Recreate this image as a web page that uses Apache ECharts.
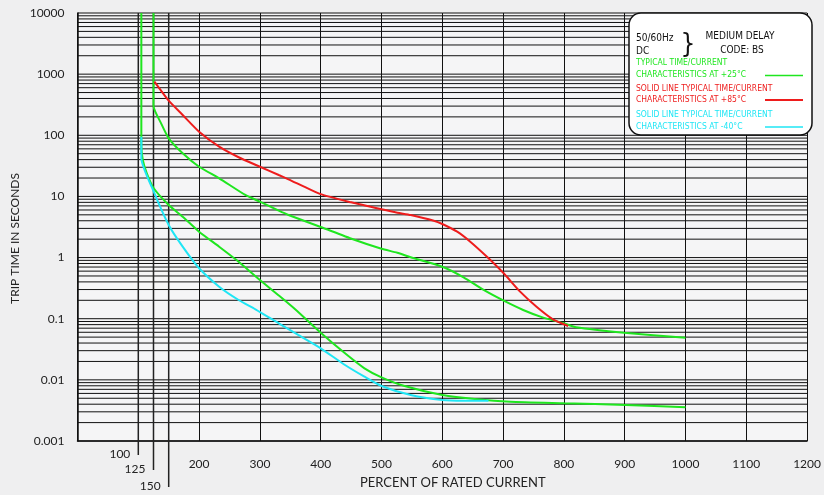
<!DOCTYPE html>
<html>
<head>
<meta charset="utf-8">
<script src="https://cdn.jsdelivr.net/npm/echarts@6/dist/echarts.min.js"></script>
<style>html,body{margin:0;padding:0;background:#efeff0;}#c{width:824px;height:495px;}</style>
</head>
<body>
<div id="c"></div>
<script>
// ---- data ----
const yTickLabels = ['0.001', '0.01', '0.1', '1', '10', '100', '1000', '10000'];
const xTickLabels = ['200', '300', '400', '500', '600', '700', '800', '900', '1000', '1100', '1200'];
const specialTicks = [100, 125, 150];
const specialTickLabels = ['100', '125', '150'];

// +25°C typical (upper green curve)
const green25Upper = [[125, 10000], [125, 301], [137.5, 157], [150, 89.3], [173, 50.8], [200, 30.6], [233, 19.8],
  [276, 10.56], [300, 8.2], [331, 5.84], [347, 4.97], [400, 3.16], [453, 1.99], [500, 1.39], [526, 1.2],
  [548, 1.01], [600, 0.709], [635, 0.476], [668, 0.295], [701, 0.197], [733, 0.139], [766, 0.104],
  [800, 0.0841], [820, 0.0724], [899, 0.059], [1000, 0.049]];
// +25°C typical (lower green curve)
const green25Lower = [[105, 10000], [105, 70], [107.4, 39.4], [114, 23.9], [125.4, 13.59], [150, 7.24],
  [173, 4.66], [200, 2.65], [233, 1.506], [265, 0.856], [300, 0.43], [331, 0.24], [358, 0.1426], [400, 0.059],
  [440, 0.0272], [472, 0.01545], [500, 0.01101], [538, 0.00793], [600, 0.00565], [657, 0.00481],
  [712, 0.00439], [800, 0.00414], [902, 0.00388], [1000, 0.00356]];
// +85°C (red)
const red85 = [[126.5, 752], [150, 368], [173, 215], [200, 114.5], [233, 65.1], [265, 43.7], [300, 30.6],
  [331, 22.4], [347, 19.06], [400, 10.9], [450, 8.02], [500, 6.16], [526, 5.42], [548, 4.97], [586, 4.01],
  [600, 3.54], [624.5, 2.65], [646, 1.82], [673.5, 1.03], [701, 0.553], [728, 0.277], [755, 0.157],
  [782, 0.0978], [807, 0.076]];
// -40°C (cyan)
const cyan40 = [[105, 94.8], [105, 42.1], [125.4, 11.95], [150, 3.41], [173, 1.506], [200, 0.668], [233, 0.334],
  [265, 0.2023], [292.6, 0.1426], [331, 0.0841], [363, 0.0542], [400, 0.0328], [440, 0.0175], [472, 0.01126],
  [500, 0.00793], [548, 0.00565], [600, 0.00468], [635, 0.00456], [676, 0.00456]];

// log grid lines (1..9 x 10^n)
const hGridValues = [];
for (let e = -3; e <= 3; e++) { for (let m = 1; m <= 9; m++) hGridValues.push(m * Math.pow(10, e)); }
hGridValues.push(10000);

const chart = echarts.init(document.getElementById('c'), null, {renderer: 'canvas'});
const FONT = 'Lato, "Open Sans", sans-serif';
const NARROW = '"Liberation Sans Narrow", "DejaVu Sans Condensed", "Roboto Condensed", sans-serif';
const GREEN = '#1fe61f', RED = '#ee1c1c', CYAN = '#1fe6f5';
const extLen = [14, 29, 46];
const SMOOTH = 0.2;

chart.setOption({
  backgroundColor: '#efeff0',
  animation: false,
  grid: {left: 77.5, right: 11.5, top: 13, bottom: 54, show: true, backgroundColor: '#f5f5f6', borderWidth: 0},
  xAxis: {
    type: 'value', min: 0, max: 1200, interval: 100,
    axisLine: {show: true, lineStyle: {color: '#111', width: 1.5}},
    axisTick: {show: false},
    splitLine: {show: true, lineStyle: {color: '#111', width: 1}},
    axisLabel: {
      margin: 17, color: '#222', fontFamily: FONT, fontSize: 12,
      formatter: v => (xTickLabels.indexOf(String(v)) >= 0 ? String(v) : '')
    }
  },
  yAxis: {
    type: 'log', logBase: 10, min: 0.001, max: 10000, splitNumber: 7,
    axisLine: {show: true, lineStyle: {color: '#111', width: 1.5}},
    axisTick: {show: false},
    splitLine: {show: false},
    axisLabel: {
      margin: 13, color: '#222', fontFamily: FONT, fontSize: 12,
      formatter: v => {
        const lbl = yTickLabels.find(t => Math.abs(Math.log10(parseFloat(t)) - Math.log10(v)) < 1e-6);
        return lbl || '';
      }
    }
  },
  series: [
    {
      type: 'custom', z: 1, silent: true, clip: false,
      encode: {x: 0, y: 1},
      data: hGridValues.map(v => [0, v]),
      renderItem: (params, api) => {
        const v = api.value(1);
        const a = api.coord([0, v]);
        const b = api.coord([1200, v]);
        return {type: 'line', shape: {x1: a[0], y1: a[1], x2: b[0], y2: b[1]},
          style: {stroke: '#111', lineWidth: 1}};
      }
    },
    {
      type: 'custom', z: 1, silent: true, clip: false,
      encode: {x: 0, y: 1},
      data: specialTicks.map(v => [v, 0.001]),
      renderItem: (params, api) => {
        const x = api.value(0);
        const top = api.coord([x, 10000]);
        const bot = api.coord([x, 0.001]);
        const ext = extLen[params.dataIndex];
        return {type: 'group', children: [
          {type: 'line', shape: {x1: top[0], y1: top[1], x2: bot[0], y2: bot[1] + ext},
            style: {stroke: '#222', lineWidth: 1.5}},
          {type: 'text', style: {x: bot[0] - 8, y: bot[1] + ext - 1, text: specialTickLabels[params.dataIndex],
            align: 'right', verticalAlign: 'middle', fill: '#222', font: '12px ' + FONT}}
        ]};
      }
    },
    {type: 'line', name: '+25 lower', data: green25Lower, showSymbol: false, smooth: SMOOTH, z: 3,
      lineStyle: {color: GREEN, width: 2}},
    {type: 'line', name: '-40', data: cyan40, showSymbol: false, smooth: SMOOTH, z: 4,
      lineStyle: {color: CYAN, width: 2}},
    {type: 'line', name: '+25 upper', data: green25Upper, showSymbol: false, smooth: SMOOTH, z: 3,
      lineStyle: {color: GREEN, width: 2}},
    {type: 'line', name: '+85', data: red85, showSymbol: false, smooth: SMOOTH, z: 5,
      lineStyle: {color: RED, width: 2}}
  ],
  graphic: [
    {type: 'text', left: 9, top: 173, rotation: Math.PI / 2, z: 50,
      style: {text: 'TRIP TIME IN SECONDS', fill: '#222', font: '12px ' + FONT}},
    {type: 'text', left: 360, top: 476, z: 50,
      style: {text: 'PERCENT OF RATED CURRENT', fill: '#222', font: '13px ' + FONT}},
    {type: 'rect', z: 100, shape: {x: 629, y: 13, width: 183, height: 122, r: 12},
      style: {fill: '#ffffff', stroke: '#111', lineWidth: 1.5}},
    {type: 'text', z: 101, style: {x: 636, y: 38, text: '50/60Hz', fill: '#111', font: '10px ' + NARROW, verticalAlign: 'middle'}},
    {type: 'text', z: 101, style: {x: 636, y: 51, text: 'DC', fill: '#111', font: '10px ' + NARROW, verticalAlign: 'middle'}},
    {type: 'text', z: 101, style: {x: 688, y: 45, text: '}', fill: '#111', font: '26px ' + NARROW, align: 'center', verticalAlign: 'middle'}},
    {type: 'text', z: 101, style: {x: 740, y: 36, text: 'MEDIUM DELAY', fill: '#111', font: '10px ' + NARROW, align: 'center', verticalAlign: 'middle'}},
    {type: 'text', z: 101, style: {x: 742, y: 50, text: 'CODE: BS', fill: '#111', font: '10px ' + NARROW, align: 'center', verticalAlign: 'middle'}},
    {type: 'text', z: 101, style: {x: 636, y: 63, text: 'TYPICAL TIME/CURRENT', fill: GREEN, font: '8.5px ' + NARROW, verticalAlign: 'middle'}},
    {type: 'text', z: 101, style: {x: 636, y: 75, text: 'CHARACTERISTICS AT +25°C', fill: GREEN, font: '8.5px ' + NARROW, verticalAlign: 'middle'}},
    {type: 'line', z: 101, shape: {x1: 765, y1: 75.5, x2: 803, y2: 75.5}, style: {stroke: GREEN, lineWidth: 1.5}},
    {type: 'text', z: 101, style: {x: 636, y: 89, text: 'SOLID LINE TYPICAL TIME/CURRENT', fill: RED, font: '8.5px ' + NARROW, verticalAlign: 'middle'}},
    {type: 'text', z: 101, style: {x: 636, y: 100, text: 'CHARACTERISTICS AT +85°C', fill: RED, font: '8.5px ' + NARROW, verticalAlign: 'middle'}},
    {type: 'line', z: 101, shape: {x1: 765, y1: 100, x2: 803, y2: 100}, style: {stroke: RED, lineWidth: 2}},
    {type: 'text', z: 101, style: {x: 636, y: 115, text: 'SOLID LINE TYPICAL TIME/CURRENT', fill: CYAN, font: '8.5px ' + NARROW, verticalAlign: 'middle'}},
    {type: 'text', z: 101, style: {x: 636, y: 127, text: 'CHARACTERISTICS AT -40°C', fill: CYAN, font: '8.5px ' + NARROW, verticalAlign: 'middle'}},
    {type: 'line', z: 101, shape: {x1: 765, y1: 127, x2: 803, y2: 127}, style: {stroke: CYAN, lineWidth: 1.5}}
  ]
});
</script>
</body>
</html>
